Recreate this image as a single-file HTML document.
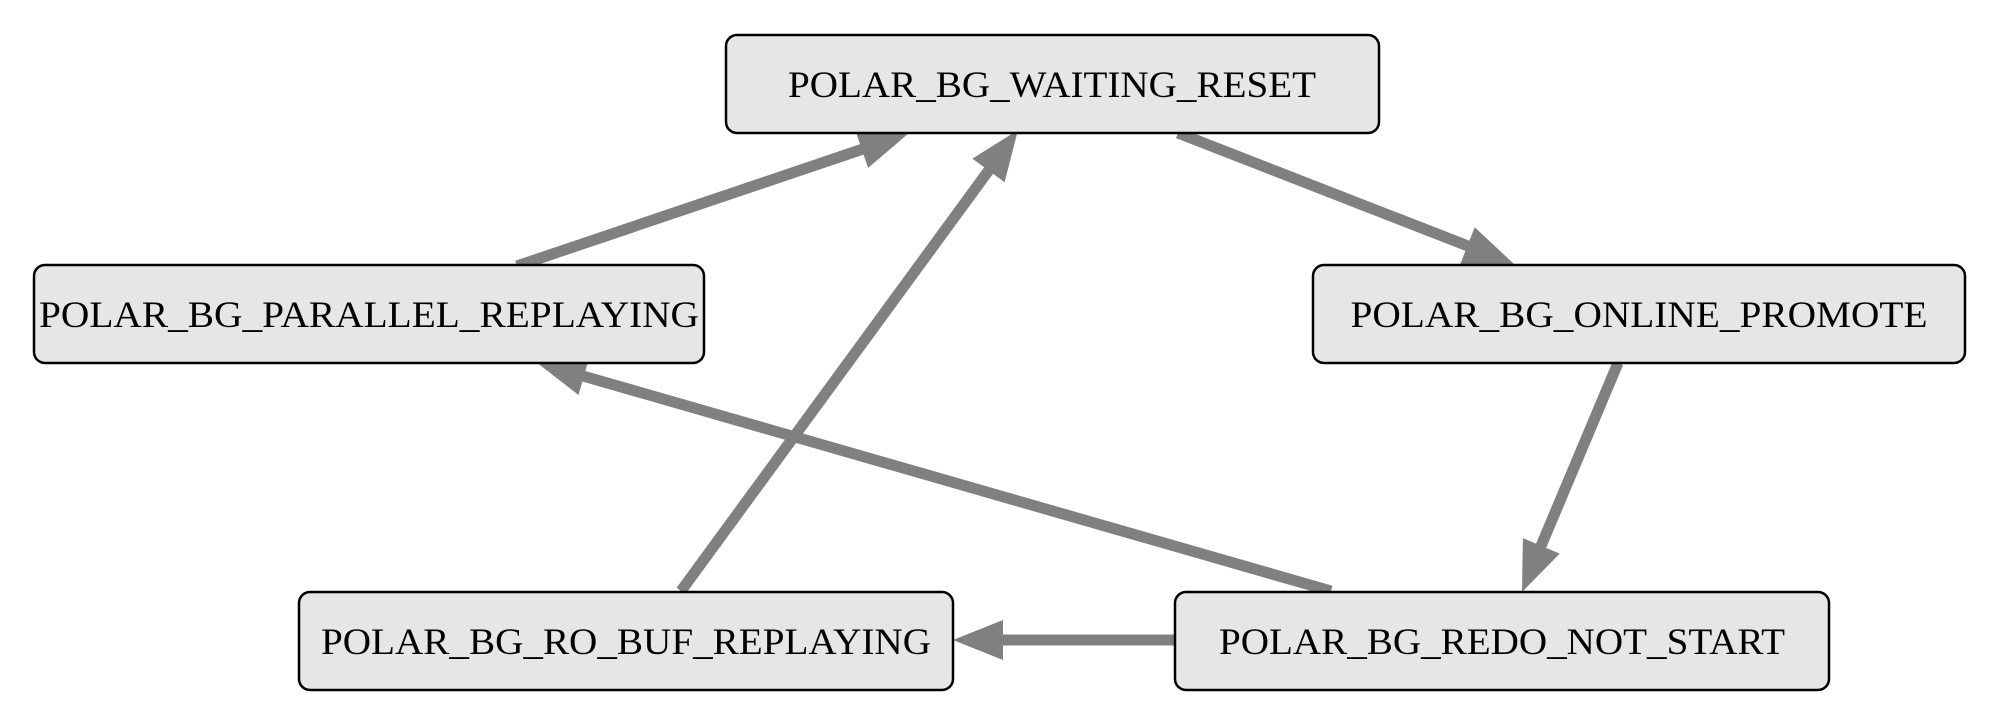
<!DOCTYPE html>
<html><head><meta charset="utf-8"><style>
html,body{margin:0;padding:0;background:#fff;}
svg{display:block;}
text{font-family:"Liberation Serif",serif;font-size:37px;fill:#000;}
</style></head><body>
<svg width="2002" height="725" viewBox="0 0 2002 725" xmlns="http://www.w3.org/2000/svg">
<g stroke="#808080" stroke-width="11" fill="none">
<line x1="517" y1="266" x2="863" y2="149"/>
<line x1="681" y1="591" x2="989" y2="170"/>
<line x1="1178" y1="133" x2="1468" y2="246"/>
<line x1="1618" y1="363" x2="1541" y2="546"/>
<line x1="1331" y1="591" x2="583" y2="376"/>
<line x1="1175" y1="640" x2="1002" y2="640"/>
</g>
<g fill="#808080">
<polygon points="909,133 868.1,168 855.3,130.2"/>
<polygon points="1018,130 1004.6,182.2 972.4,158.6"/>
<polygon points="1514,264 1460.1,264.4 1474.7,227.2"/>
<polygon points="1522,592 1522.9,538.2 1559.7,553.6"/>
<polygon points="536,362 589.5,356.6 578.5,395"/>
<polygon points="953,640 1003,620 1003,660"/>
</g>
<g fill="#e6e6e6" stroke="#000" stroke-width="2.5">
<rect x="726" y="35" width="653" height="98" rx="11"/>
<rect x="34" y="265" width="670" height="98" rx="11"/>
<rect x="1313" y="265" width="652" height="98" rx="11"/>
<rect x="299" y="592" width="654" height="98" rx="11"/>
<rect x="1175" y="592" width="654" height="98" rx="11"/>
</g>
<g text-anchor="middle">
<text x="1052" y="97" textLength="528" lengthAdjust="spacingAndGlyphs">POLAR_BG_WAITING_RESET</text>
<text x="369" y="327" textLength="660" lengthAdjust="spacingAndGlyphs">POLAR_BG_PARALLEL_REPLAYING</text>
<text x="1639" y="327" textLength="577" lengthAdjust="spacingAndGlyphs">POLAR_BG_ONLINE_PROMOTE</text>
<text x="626" y="654" textLength="610" lengthAdjust="spacingAndGlyphs">POLAR_BG_RO_BUF_REPLAYING</text>
<text x="1502" y="654" textLength="566" lengthAdjust="spacingAndGlyphs">POLAR_BG_REDO_NOT_START</text>
</g>
</svg>
</body></html>
